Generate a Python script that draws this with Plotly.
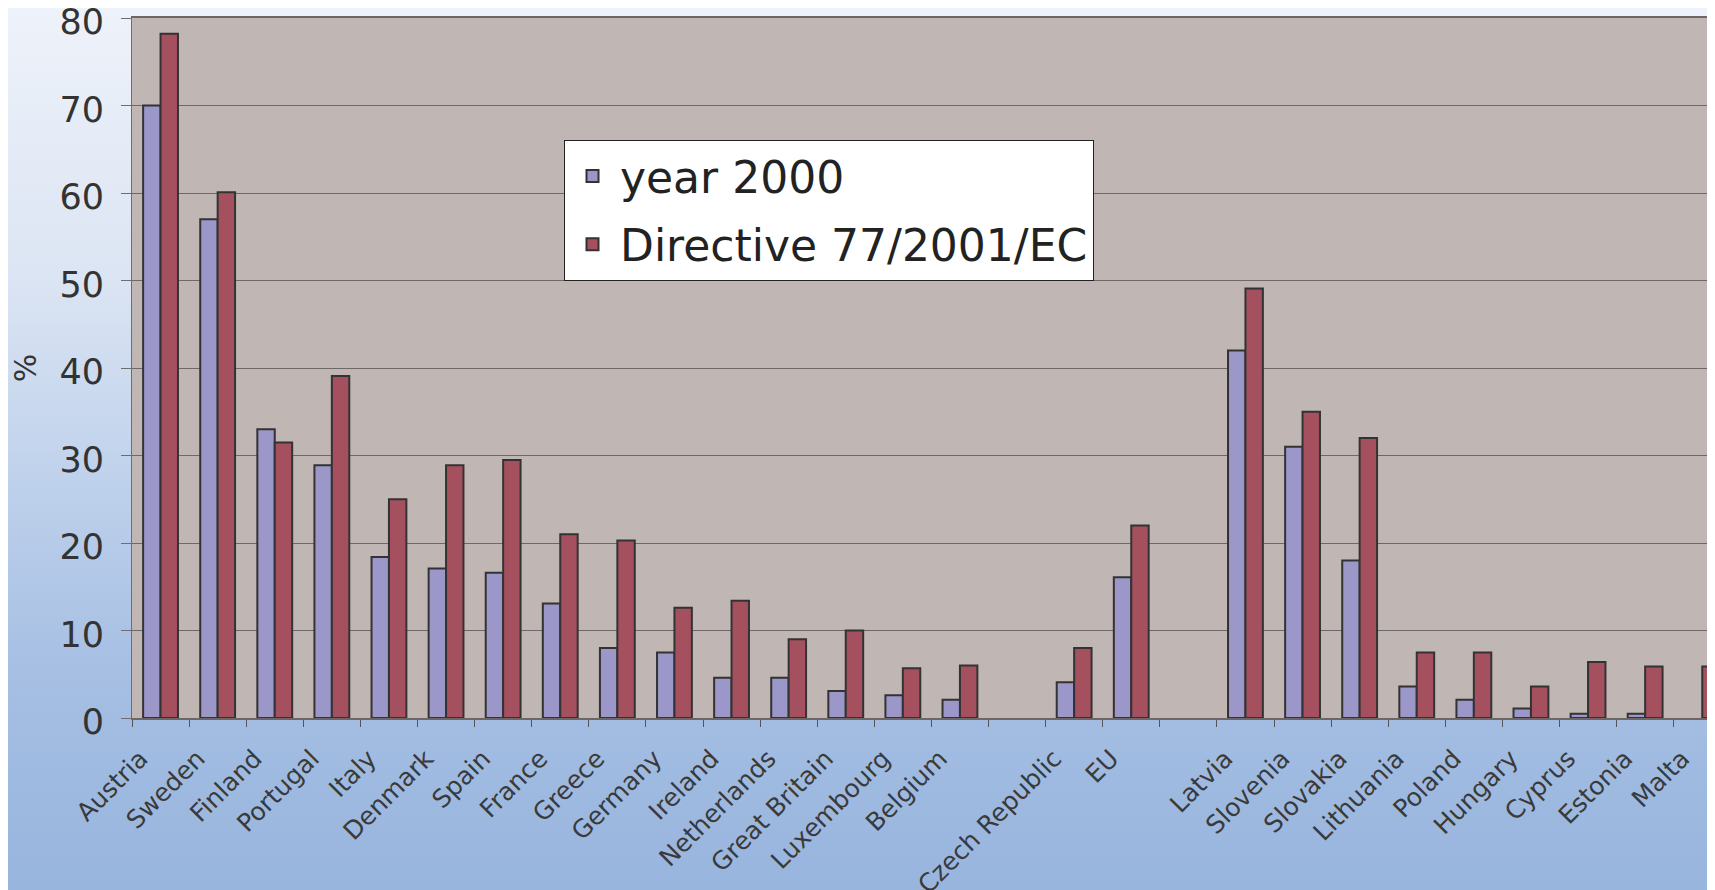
import base64
import plotly.graph_objects as go

categories = ["Austria", "Sweden", "Finland", "Portugal", "Italy", "Denmark", "Spain",
              "France", "Greece", "Germany", "Ireland", "Netherlands", "Great Britain",
              "Luxembourg", "Belgium", " ", "Czech Republic", "EU", "  ", "Latvia",
              "Slovenia", "Slovakia", "Lithuania", "Poland", "Hungary", "Cyprus",
              "Estonia", "Malta"]

year_2000 = [70, 57, 33, 28.9, 18.4, 17.1, 16.6, 13.1, 8, 7.5, 4.6, 4.6, 3.1, 2.6, 2.1,
             None, 4.1, 16.1, None, 42, 31, 18, 3.6, 2.1, 1.1, 0.5, 0.5, None]

directive = [78.2, 60.1, 31.5, 39.1, 25, 28.9, 29.5, 21, 20.3, 12.6, 13.4, 9, 10, 5.7, 6,
             None, 8, 22, None, 49.1, 35, 32, 7.5, 7.5, 3.6, 6.4, 5.9, 5.9]

series_names = ["year 2000", "Directive 77/2001/EC"]
y_ticks = [0, 10, 20, 30, 40, 50, 60, 70, 80]

# page has an 8px body margin, so the figure is sized to end at the window edge
W, H = 1707, 882
ML, MR, MT, MB = 124, 0, 10, 172

svg = (
    '<svg xmlns="http://www.w3.org/2000/svg" width="100" height="100" preserveAspectRatio="none" viewBox="0 0 100 100">'
    '<defs><linearGradient id="g" x1="0" y1="0" x2="0" y2="1">'
    '<stop offset="0" stop-color="#EEF2FA"/>'
    '<stop offset="0.3" stop-color="#DCE5F3"/>'
    '<stop offset="0.55" stop-color="#BDD0EB"/>'
    '<stop offset="0.75" stop-color="#A6BFE3"/>'
    '<stop offset="1" stop-color="#98B5DE"/>'
    '</linearGradient></defs>'
    '<rect x="0" y="0" width="100" height="100" fill="url(#g)"/></svg>'
)
src = "data:image/svg+xml;base64," + base64.b64encode(svg.encode()).decode()

pw = W - ML - MR
ph = H - MT - MB

fig = go.Figure()
fig.add_trace(go.Bar(
    x=categories, y=year_2000, name=series_names[0], legendgroup="a",
    marker=dict(color="#9B97C9", line=dict(color="#333333", width=2)),
))
fig.add_trace(go.Bar(
    x=categories, y=directive, name=series_names[1], legendgroup="b",
    marker=dict(color="#A5505E", line=dict(color="#333333", width=2)),
))

fig.update_layout(
    width=W, height=H,
    margin=dict(l=ML, r=MR, t=MT, b=MB, autoexpand=False),
    paper_bgcolor="#DCE5F3",
    plot_bgcolor="#C0B6B3",
    barmode="group",
    bargap=0.39,
    bargroupgap=0,
    font=dict(family="DejaVu Sans, Verdana, sans-serif", color="#333333"),
    images=[dict(source=src, xref="paper", yref="paper",
                 x=-ML / pw, y=1 + MT / ph, sizex=W / pw, sizey=H / ph,
                 xanchor="left", yanchor="top", sizing="stretch", layer="below")],
    shapes=[dict(type="rect", xref="x domain", yref="y domain", x0=0, x1=1, y0=0, y1=1,
                 fillcolor="#C0B6B3", line=dict(width=0), layer="below")],
    legend=dict(
        x=(556 - ML) / pw, y=(MT + ph - 132) / ph, xanchor="left", yanchor="top",
        bgcolor="#FFFFFF", bordercolor="#222222", borderwidth=1,
        font=dict(size=44, color="#222222"),
        tracegroupgap=8, itemwidth=45,
    ),
    xaxis=dict(
        type="category",
        range=[-0.5, -0.5 + pw / 57.1],
        tickangle=-45,
        tickson="boundaries",
        ticks="outside", ticklen=7, tickcolor="#555555",
        tickfont=dict(size=25, color="#3A3A3A"),
        ticklabelshift=-20, ticklabelstandoff=14,
        showline=True, linecolor="#6E6565", linewidth=2, mirror=True,
        showgrid=False,
    ),
    yaxis=dict(
        range=[0, 80],
        tickvals=y_ticks,
        ticks="outside", ticklen=10, tickcolor="#6E6E6E",
        tickfont=dict(size=35, color="#333333"),
        ticklabelstandoff=10, ticklabelshift=4, ticklabeloverflow="allow",
        showline=True, linecolor="#6E6E6E", linewidth=1,
        showgrid=True, gridcolor="#6F6868", gridwidth=1,
        zeroline=False,
        title=dict(text="%", font=dict(size=30, color="#333333"), standoff=14),
    ),
)

fig.write_html("out.html")
